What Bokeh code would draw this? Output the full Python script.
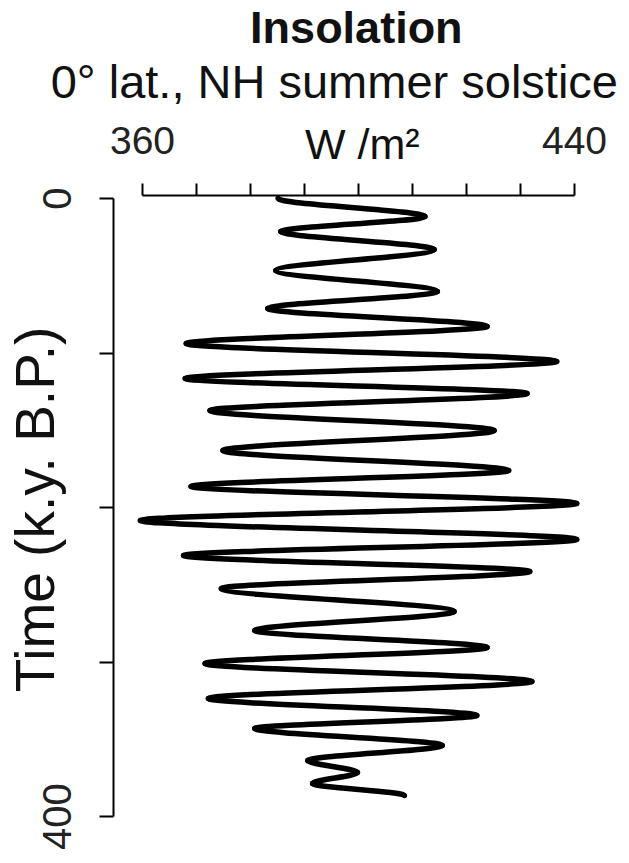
import math
from bokeh.plotting import figure
from bokeh.models import Range1d, FixedTicker, ColumnDataSource, Label
from bokeh.embed import file_html
from bokeh.resources import INLINE

# Extrema of the insolation curve (time in k.y. B.P., W/m^2)
time_ky = [0, 11.7, 21.4, 33.0, 46.6, 60.2, 71.2, 82.8, 93.9, 105.5, 116.5, 126.2,
           137.2, 150.2, 163.1, 176.1, 186.4, 197.4, 208.4, 220.7, 231.1, 241.4,
           252.4, 267.3, 279.6, 290.6, 301.0, 312.6, 323.6, 334.6, 343.0, 354.0,
           363.8, 371.5, 378.6, 386.4]
insolation = [385.1, 412.3, 385.6, 414.0, 384.7, 414.6, 383.2, 423.8, 368.1, 436.7,
              367.9, 431.2, 372.5, 425.1, 374.9, 427.8, 369.0, 440.4, 359.6, 440.4,
              367.6, 431.7, 374.6, 417.7, 380.8, 423.8, 371.6, 432.1, 372.2, 421.9,
              380.8, 415.5, 390.6, 399.8, 391.5, 408.5]

x_ticks = [360, 370, 380, 390, 400, 410, 420, 430, 440]
x_tick_labels = {360: "360", 440: "440"}
y_ticks = [0, 100, 200, 300, 400]
y_tick_labels = {0: "0", 400: "400"}

FONT = "Liberation Sans"

# smooth path between successive extrema: vertical tangents at each extremum
k = 1.0 / 3.0
seg = dict(x0=[], y0=[], x1=[], y1=[], cx0=[], cy0=[], cx1=[], cy1=[])
for i in range(len(time_ky) - 1):
    dt = time_ky[i + 1] - time_ky[i]
    seg["x0"].append(insolation[i])
    seg["y0"].append(time_ky[i])
    seg["x1"].append(insolation[i + 1])
    seg["y1"].append(time_ky[i + 1])
    seg["cx0"].append(insolation[i])
    seg["cy0"].append(time_ky[i] + k * dt)
    seg["cx1"].append(insolation[i + 1])
    seg["cy1"].append(time_ky[i + 1] - k * dt)
src = ColumnDataSource(seg)

W, H = 621, 858
p = figure(frame_width=W, frame_height=H,
           x_range=Range1d(333.70, 448.70), y_range=Range1d(427.18, -128.16),
           x_axis_location="above", output_backend="svg", toolbar_location=None,
           min_border_left=0, min_border_right=0, min_border_top=0, min_border_bottom=0)

p.bezier(x0="x0", y0="y0", x1="x1", y1="y1", cx0="cx0", cy0="cy0", cx1="cx1", cy1="cy1",
         source=src, line_color="black", line_width=5.5, line_cap="round")

p.grid.visible = False
p.outline_line_color = None
p.background_fill_color = "white"
p.border_fill_color = "white"

xa = p.xaxis[0]
xa.fixed_location = -1.94
xa.ticker = FixedTicker(ticks=x_ticks)
xa.major_label_overrides = {t: x_tick_labels.get(t, "") for t in x_ticks}
xa.bounds = (360, 440)
xa.minor_tick_line_color = None
xa.major_tick_out = 12
xa.major_tick_in = 0
xa.major_tick_line_width = 2
xa.axis_line_width = 2
xa.major_label_text_font = FONT
xa.major_label_text_font_size = "39px"
xa.major_label_text_color = "#222222"
xa.major_label_standoff = 30

ya = p.yaxis[0]
ya.fixed_location = 354.63
ya.ticker = FixedTicker(ticks=y_ticks)
ya.major_label_overrides = {t: y_tick_labels.get(t, "") for t in y_ticks}
ya.bounds = (0, 400)
ya.minor_tick_line_color = None
ya.major_tick_out = 14
ya.major_tick_in = 0
ya.major_tick_line_width = 2
ya.axis_line_width = 2
ya.major_label_orientation = "vertical"
ya.major_label_text_font = FONT
ya.major_label_text_font_size = "40px"
ya.major_label_text_color = "#222222"
ya.major_label_standoff = 29

# header and axis-title texts (y is time, increasing downward)
p.add_layout(Label(x=399.6, y=-110.7, text="Insolation", text_align="center",
                   text_baseline="alphabetic", text_font=FONT, text_font_size="45px",
                   text_font_style="bold", text_color="#111111"))
p.add_layout(Label(x=343.0, y=-75.7, text="0° lat., NH summer solstice", text_align="left",
                   text_baseline="alphabetic", text_font=FONT, text_font_size="47px",
                   text_color="#111111"))
p.add_layout(Label(x=400.7, y=-35.6, text="W /m²", text_align="center",
                   text_baseline="alphabetic", text_font=FONT, text_font_size="43px",
                   text_color="#111111"))
p.add_layout(Label(x=340.0, y=201.3, text="Time (k.y. B.P.)", text_align="center",
                   text_baseline="alphabetic", angle=math.pi / 2, text_font=FONT,
                   text_font_size="55px", text_color="#111111"))

open("out.html", "w").write(file_html(p, INLINE))
